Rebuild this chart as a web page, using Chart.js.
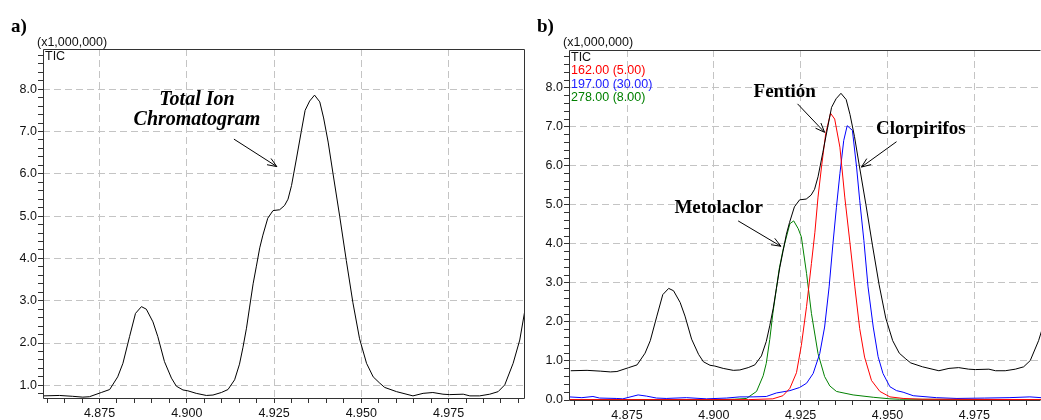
<!DOCTYPE html>
<html>
<head>
<meta charset="utf-8">
<script src="https://cdn.jsdelivr.net/npm/chart.js@4.4.0/dist/chart.umd.min.js"></script>
<style>
  body { margin: 0; background: #fff; overflow: hidden; }
  #wrap { position: relative; width: 1041px; height: 420px; overflow: hidden; }
  canvas { position: absolute; top: 0; }
  #chartA { left: 0; }
  #chartB { left: 530px; }
</style>
</head>
<body>
<div id="wrap">
  <canvas id="chartA" width="530" height="420"></canvas>
  <canvas id="chartB" width="511" height="420"></canvas>
</div>
<script>
// Retention time (min) and intensity (x1,000,000)
const ticTime = [4.8588, 4.8635, 4.8673, 4.8702, 4.8721, 4.8755, 4.8779, 4.8802, 4.8817, 4.8836,
  4.8853, 4.8870, 4.8884, 4.8903, 4.8917, 4.8936, 4.8956, 4.8970, 4.8989, 4.9003,
  4.9027, 4.9056, 4.9075, 4.9099, 4.9118, 4.9137, 4.9151, 4.9161, 4.9171, 4.9180,
  4.9190, 4.9199, 4.9209, 4.9218, 4.9232, 4.9247, 4.9266, 4.9280, 4.9290, 4.9300,
  4.9314, 4.9328, 4.9339, 4.9352, 4.9366, 4.9381, 4.9392, 4.9405, 4.9419, 4.9438,
  4.9457, 4.9476, 4.9495, 4.9515, 4.9534, 4.9553, 4.9567, 4.9601, 4.9648, 4.9677,
  4.9705, 4.9734, 4.9753, 4.9792, 4.9811, 4.9839, 4.9868, 4.9892, 4.9911, 4.9935,
  4.9954, 4.9968];
const ticValue = [0.75, 0.76, 0.74, 0.72, 0.73, 0.83, 0.90, 1.20, 1.52, 2.15,
  2.70, 2.86, 2.80, 2.50, 2.15, 1.56, 1.17, 0.98, 0.89, 0.87,
  0.81, 0.76, 0.77, 0.83, 0.90, 1.13, 1.50, 1.90, 2.35, 2.85,
  3.40, 3.80, 4.25, 4.55, 4.95, 5.13, 5.15, 5.25, 5.40, 5.72,
  6.35, 7.00, 7.50, 7.72, 7.86, 7.70, 7.32, 6.75, 6.00, 5.00,
  3.95, 2.95, 2.10, 1.52, 1.20, 1.05, 0.95, 0.85, 0.75, 0.81,
  0.83, 0.79, 0.78, 0.79, 0.75, 0.75, 0.79, 0.85, 1.01, 1.52,
  2.07, 2.74];

// m/z 162 (Fentión)
const redTime = [4.8583, 4.9100, 4.9170, 4.9199, 4.9219, 4.9238, 4.9252, 4.9267, 4.9281, 4.9291,
  4.9300, 4.9310, 4.9322, 4.9336, 4.9348, 4.9363, 4.9377, 4.9391, 4.9406, 4.9420,
  4.9434, 4.9454, 4.9478, 4.9507, 4.9545, 4.9600, 4.9942];
const redValue = [0.01, 0.01, 0.03, 0.11, 0.30, 0.70, 1.40, 2.40, 3.50, 4.30,
  5.20, 5.97, 6.82, 7.35, 7.20, 6.48, 5.20, 4.10, 2.90, 1.83,
  1.10, 0.50, 0.22, 0.08, 0.04, 0.02, 0.01];

// m/z 197 (Clorpirifos)
const blueTime = [4.8583, 4.8620, 4.8652, 4.8671, 4.8719, 4.8738, 4.8782, 4.8806, 4.8835, 4.8863,
  4.8921, 4.8979, 4.9036, 4.9075, 4.9113, 4.9151, 4.9180, 4.9219, 4.9247, 4.9267,
  4.9286, 4.9305, 4.9319, 4.9332, 4.9343, 4.9353, 4.9363, 4.9374, 4.9384, 4.9399,
  4.9411, 4.9420, 4.9432, 4.9444, 4.9459, 4.9473, 4.9487, 4.9507, 4.9526, 4.9545,
  4.9574, 4.9641, 4.9700, 4.9780, 4.9850, 4.9910, 4.9942];
const blueValue = [0.08, 0.06, 0.09, 0.05, 0.04, 0.03, 0.13, 0.10, 0.05, 0.04,
  0.06, 0.03, 0.05, 0.08, 0.08, 0.09, 0.18, 0.24, 0.32, 0.43,
  0.68, 1.19, 1.87, 2.90, 4.01, 4.94, 5.80, 6.65, 7.03, 6.91,
  5.97, 5.12, 4.09, 2.90, 1.87, 1.11, 0.68, 0.34, 0.24, 0.20,
  0.11, 0.06, 0.04, 0.05, 0.06, 0.08, 0.06];

// m/z 278 (Metolaclor)
const greenTime = [4.8583, 4.9000, 4.9060, 4.9094, 4.9123, 4.9142, 4.9151, 4.9161, 4.9170, 4.9180,
  4.9188, 4.9199, 4.9219, 4.9230, 4.9243, 4.9252, 4.9267, 4.9281, 4.9300, 4.9319,
  4.9334, 4.9353, 4.9363, 4.9401, 4.9459, 4.9507, 4.9535, 4.9942];
const greenValue = [0.01, 0.01, 0.02, 0.04, 0.22, 0.62, 0.94, 1.55, 2.22, 2.85,
  3.35, 3.84, 4.52, 4.59, 4.39, 4.18, 3.24, 2.22, 1.19, 0.60,
  0.36, 0.22, 0.20, 0.13, 0.07, 0.03, 0.02, 0.01];

// Axis labels
const xTickLabels = [4.875, 4.900, 4.925, 4.950, 4.975];
const yTickLabelsA = [1, 2, 3, 4, 5, 6, 7, 8];
const yTickLabelsB = [0, 1, 2, 3, 4, 5, 6, 7, 8];

Chart.defaults.font.family = "'Liberation Sans', Arial, sans-serif";
Chart.defaults.font.size = 12.5;
Chart.defaults.color = "#111";

const serifBold = "bold 19px 'Liberation Serif', serif";
const serifBoldItalic = "italic bold 20px 'Liberation Serif', serif";

function toPoints(xs, ys) {
    return xs.map((x, i) => ({ x: x, y: ys[i] }));
}

// Full tick set every `step`, flagging the labelled ones
function tickSet(from, to, step, labelled) {
    const out = [];
    const n = Math.round((to - from) / step);
    for (let i = 0; i <= n; i++) {
        const v = +(from + i * step).toFixed(4);
        out.push({ value: v, main: labelled.some(m => Math.abs(m - v) < 1e-6) });
    }
    return out;
}

function drawArrow(ctx, x1, y1, x2, y2) {
    const a = Math.atan2(y2 - y1, x2 - x1);
    const h = 10;
    ctx.beginPath();
    ctx.moveTo(x1, y1);
    ctx.lineTo(x2, y2);
    ctx.moveTo(x2 - h * Math.cos(a - 0.38), y2 - h * Math.sin(a - 0.38));
    ctx.lineTo(x2, y2);
    ctx.lineTo(x2 - h * Math.cos(a + 0.38), y2 - h * Math.sin(a + 0.38));
    ctx.stroke();
}

// Frame, header texts and arrow labels
function makeDecor(cfg) {
    return {
        id: "decor",
        afterDraw(chart) {
            const { ctx, chartArea: a, scales } = chart;
            const px = v => scales.x.getPixelForValue(v);
            const py = v => scales.y.getPixelForValue(v);
            ctx.save();
            ctx.strokeStyle = "#333";
            ctx.lineWidth = 1;
            ctx.beginPath();
            const L = Math.round(a.left) + 0.5, T = Math.round(a.top) + 0.5;
            const R = Math.round(a.right) - 0.5, B = Math.round(a.bottom) + 0.5;
            ctx.moveTo(L, B); ctx.lineTo(L, T); ctx.lineTo(R, T);
            if (cfg.rightBorder) ctx.lineTo(R, B);
            ctx.moveTo(L, B); ctx.lineTo(R, B);
            ctx.stroke();

            // panel letter
            ctx.fillStyle = "#000";
            ctx.font = serifBold;
            ctx.textAlign = "left";
            ctx.textBaseline = "alphabetic";
            ctx.fillText(cfg.letter, cfg.letterX, 32);

            ctx.font = "12.5px 'Liberation Sans', Arial, sans-serif";
            ctx.fillStyle = "#111";
            ctx.fillText("(x1,000,000)", a.left - 6, 46);
            cfg.legend.forEach((item, i) => {
                ctx.fillStyle = item.color;
                ctx.fillText(item.text, a.left + 2, a.top + 11 + i * 13.3);
            });

            ctx.fillStyle = "#000";
            ctx.strokeStyle = "#000";
            ctx.textAlign = "center";
            cfg.notes.forEach(n => {
                ctx.font = n.font;
                n.lines.forEach((t, i) => ctx.fillText(t, px(n.x), py(n.y) + i * 20));
                drawArrow(ctx, px(n.from[0]), py(n.from[1]), px(n.to[0]), py(n.to[1]));
            });
            ctx.restore();
        }
    };
}

function axisOptions(range, ticks, digits, size, isX) {
    return {
        type: "linear",
        min: range[0],
        max: range[1],
        afterBuildTicks: s => { s.ticks = ticks; },
        afterFit: s => { if (isX) s.height = size; else s.width = size; },
        ticks: {
            autoSkip: false,
            maxRotation: 0,
            minRotation: 0,
            padding: isX ? 3 : 1,
            callback: (v, i, t) => (t[i] && t[i].main ? Number(v).toFixed(digits) : "")
        },
        grid: {
            color: c => (c.tick && c.tick.main ? "#c4c4c4" : "rgba(0,0,0,0)"),
            tickColor: "#333",
            tickLength: 5,
            lineWidth: 1
        },
        border: { display: false, dash: [7, 4] }
    };
}

function lineSet(data, color) {
    return {
        data: data,
        borderColor: color,
        borderWidth: 1,
        pointRadius: 0,
        tension: 0,
        fill: false
    };
}

// a) Total ion chromatogram
new Chart(document.getElementById("chartA"), {
    type: "line",
    data: { datasets: [lineSet(toPoints(ticTime, ticValue), "#000")] },
    options: {
        responsive: false,
        animation: false,
        layout: { padding: { left: 0, top: 49, right: 5, bottom: 0 } },
        plugins: { legend: { display: false }, tooltip: { enabled: false } },
        scales: {
            x: axisOptions([4.8588, 4.9969], tickSet(4.860, 4.995, 0.005, xTickLabels), 3, 22, true),
            y: axisOptions([0.70, 8.95], tickSet(0.8, 8.8, 0.2, yTickLabelsA), 1, 43, false)
        }
    },
    plugins: [makeDecor({
        letter: "a)",
        letterX: 11,
        rightBorder: true,
        legend: [{ text: "TIC", color: "#111" }],
        notes: [{
            lines: ["Total Ion", "Chromatogram"],
            font: serifBoldItalic,
            x: 4.9029, y: 7.63,
            from: [4.9135, 6.82], to: [4.9258, 6.17]
        }]
    })]
});

// b) TIC with the extracted ions
new Chart(document.getElementById("chartB"), {
    type: "line",
    data: {
        datasets: [
            lineSet(toPoints(ticTime, ticValue), "#000"),
            lineSet(toPoints(redTime, redValue), "#ff0000"),
            lineSet(toPoints(blueTime, blueValue), "#0000ff"),
            lineSet(toPoints(greenTime, greenValue), "#008000")
        ]
    },
    options: {
        responsive: false,
        animation: false,
        layout: { padding: { left: 0, top: 50, right: 0, bottom: 0 } },
        plugins: { legend: { display: false }, tooltip: { enabled: false } },
        scales: {
            x: axisOptions([4.8583, 4.9942], tickSet(4.860, 4.990, 0.005, xTickLabels), 3, 20, true),
            y: axisOptions([0, 8.97], tickSet(0, 8.8, 0.2, yTickLabelsB), 1, 39, false)
        }
    },
    plugins: [makeDecor({
        letter: "b)",
        letterX: 7,
        rightBorder: false,
        legend: [
            { text: "TIC", color: "#111" },
            { text: "162.00 (5.00)", color: "#ff0000" },
            { text: "197.00 (30.00)", color: "#2020ff" },
            { text: "278.00 (8.00)", color: "#008000" }
        ],
        notes: [
            { lines: ["Fentión"], font: serifBold, x: 4.9204, y: 7.77, from: [4.9241, 7.59], to: [4.9319, 6.86] },
            { lines: ["Clorpirifos"], font: serifBold, x: 4.9596, y: 6.82, from: [4.9526, 6.62], to: [4.9425, 5.97] },
            { lines: ["Metolaclor"], font: serifBold, x: 4.9014, y: 4.79, from: [4.9070, 4.59], to: [4.9193, 3.94] }
        ]
    })]
});
</script>
</body>
</html>
